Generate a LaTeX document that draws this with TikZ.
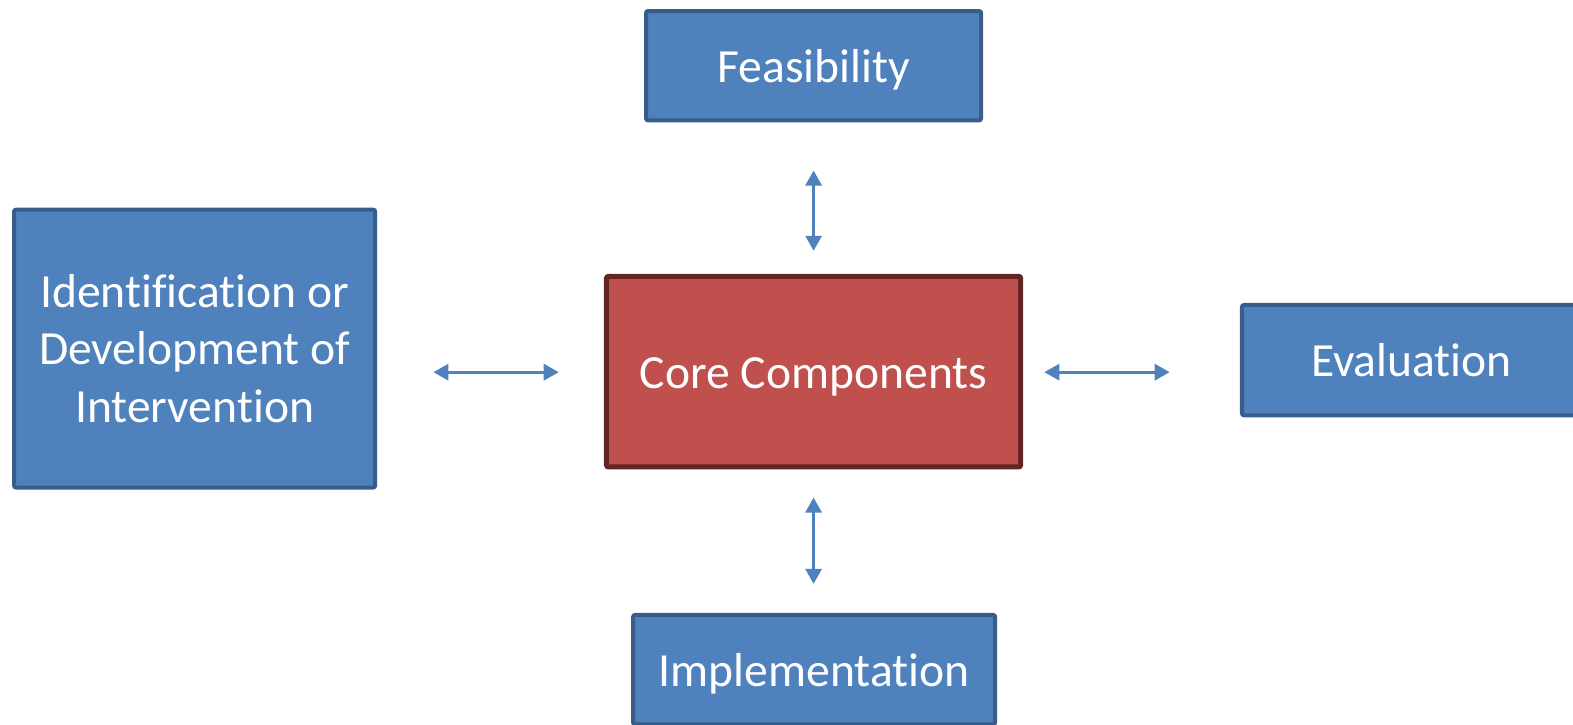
\documentclass[tikz,border=0pt]{standalone}
\usepackage{fontspec}
\setmainfont{Carlito}[Ligatures=NoCommon]
\usetikzlibrary{arrows.meta}
\definecolor{boxblue}{HTML}{4F81BD}
\definecolor{lineblue}{HTML}{385D8A}
\definecolor{boxred}{HTML}{C0504D}
\definecolor{linered}{HTML}{632523}
\tikzset{
	box/.style={draw=lineblue, fill=boxblue, line width=0.08cm, rounded corners=0.04cm,
		text=white, font=\fontsize{27pt}{32.4pt}\selectfont, align=center, inner sep=0pt},
	oneline/.style={text height=0.66cm, text depth=0pt},
	link/.style={draw=boxblue, line width=0.06cm, {Triangle[width=0.32cm,length=0.3cm]}-{Triangle[width=0.32cm,length=0.3cm]}}
}
\begin{document}
\begin{tikzpicture}[x=0.02cm,y=-0.02cm]
		\useasboundingbox (0,0) rectangle (1568,722.5);
		\node[box, oneline, minimum width=6.68cm, minimum height=2.18cm] (feas) at (811,65.5) {Feasibility};
		\node[box, minimum width=7.2cm, minimum height=5.54cm] (ident) at (194,347.5) {Identification or\\Development of\\Intervention};
		\node[box, oneline, draw=linered, fill=boxred, line width=0.1cm, minimum width=8.26cm, minimum height=3.8cm] (core) at (811,370.5) {Core Components};
		\node[box, oneline, minimum width=6.76cm, minimum height=2.2cm] (eval) at (1407,359) {Evaluation};
		\node[box, oneline, minimum width=7.22cm, minimum height=2.18cm] (impl) at (811.5,667.5) {Implementation};
		\coordinate (L1) at (432,371);
		\coordinate (L2) at (557,371);
		\coordinate (R1) at (1041,371);
		\coordinate (R2) at (1166,371);
		\coordinate (T1) at (811,170);
		\coordinate (T2) at (811,250);
		\coordinate (B1) at (811,496);
		\coordinate (B2) at (811,582);
		\draw[link] (L1) -- (L2);
		\draw[link] (R1) -- (R2);
		\draw[link] (T1) -- (T2);
		\draw[link] (B1) -- (B2);
	\end{tikzpicture}
\end{document}
